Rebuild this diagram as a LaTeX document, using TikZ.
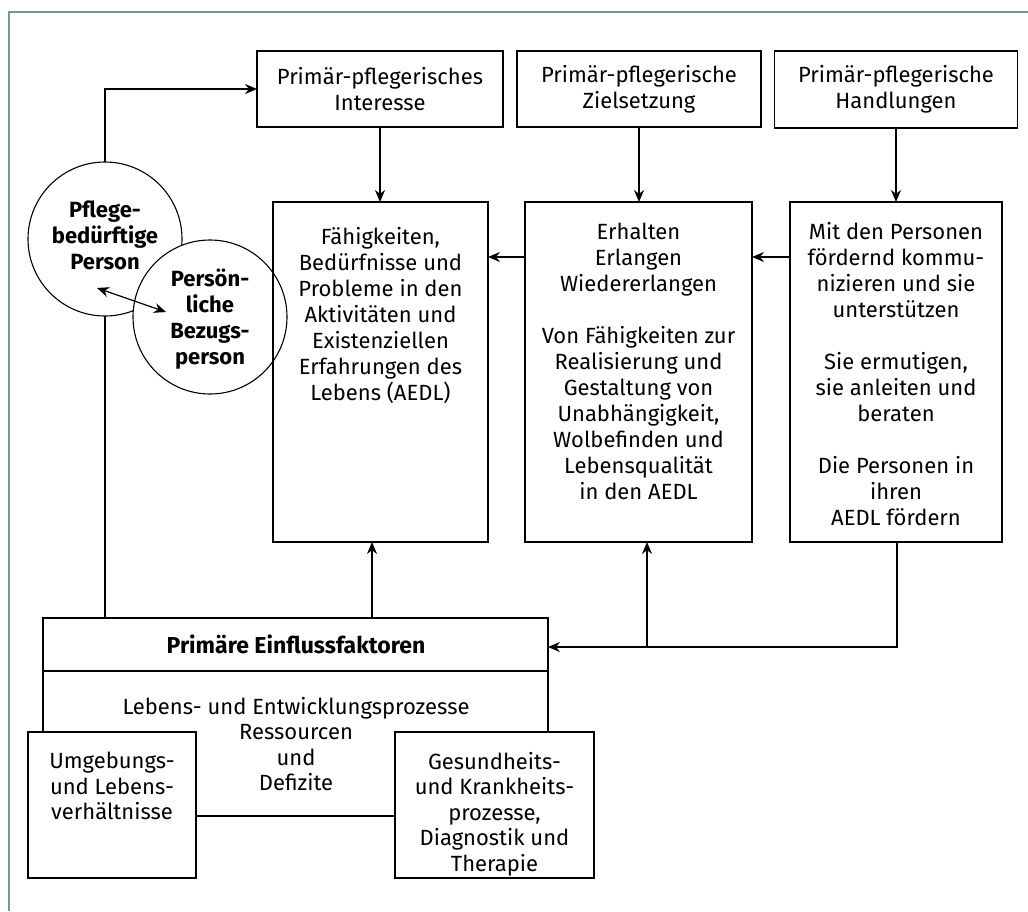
\documentclass[tikz,border=0pt]{standalone}
\usepackage{fontspec}
\setmainfont{Fira Sans}
\usetikzlibrary{arrows.meta}
\definecolor{framecol}{RGB}{120,150,150}
\begin{document}
\begin{tikzpicture}[x=1pt,y=-1pt,
  every node/.style={inner sep=0pt, outer sep=0pt},
  txt/.style={align=center, font=\fontsize{22}{26}\selectfont},
  btxt/.style={align=center, font=\fontsize{22}{26}\selectfont\bfseries},
  box/.style={draw, line width=1.3pt},
  ring/.style={draw, circle, line width=1.1pt, minimum size=154pt},
  conn/.style={line width=1.2pt},
  arr/.style={conn, -{Stealth[length=12pt,width=10pt]}},
  darr/.style={conn, {Stealth[length=12pt,width=10pt]}-{Stealth[length=12pt,width=10pt]}}
]
\useasboundingbox (0,0) rectangle (1028,911);
\fill[white] (0,0) rectangle (1028,911);

% outer frame (top and left edges)
\draw[framecol, line width=1.5pt] (9,911) -- (9,12) -- (1028,12);

% persons
\node[ring] (pflege) at (105,239) {};
\node[ring, fill=white] (bezug) at (210,317) {};
\node[btxt] (pflegeT) at (105,235) {Pflege-\\bedürftige\\Person};
\node[btxt] (bezugT) at (210,319) {Persön-\\liche\\Bezugs-\\person};

% top row
\node[box, minimum width=246pt, minimum height=76pt, txt] (inter) at (380,89) {Primär-pflegerisches\\Interesse};
\node[box, minimum width=244pt, minimum height=76pt, txt] (ziel) at (639,89) {Primär-pflegerische\\Zielsetzung};
\node[box, minimum width=243pt, minimum height=77pt, txt] (handl) at (896,89.5) {Primär-pflegerische\\Handlungen};

% middle row
\node[box, minimum width=215pt, minimum height=340pt] (faeh) at (380.5,372) {};
\node[box, minimum width=227pt, minimum height=340pt] (erh) at (638.5,372) {};
\node[box, minimum width=212pt, minimum height=340pt] (mit) at (896,372) {};

\node[txt, anchor=north] (faehT) at ([yshift=-25pt]faeh.north) {Fähigkeiten,\\Bedürfnisse und\\Probleme in den\\Aktivitäten und\\Existenziellen\\Erfahrungen des\\Lebens (AEDL)};
\node[txt, anchor=north] (erhT) at ([yshift=-21pt]erh.north) {Erhalten\\Erlangen\\Wiedererlangen\\[26pt]Von Fähigkeiten zur\\Realisierung und\\Gestaltung von\\Unabhängigkeit,\\Wolbefinden und\\Lebensqualität\\in den AEDL};
\node[txt, anchor=north] (mitT) at ([yshift=-20pt]mit.north) {Mit den Personen\\fördernd kommu-\\nizieren und sie\\unterstützen\\[26pt]Sie ermutigen,\\sie anleiten und\\beraten\\[26pt]Die Personen in\\ihren\\AEDL fördern};

% influencing factors
\node[box, minimum width=505pt, minimum height=53pt] (einfl) at (295.5,644.5) {};
\node[btxt, font=\fontsize{23}{26}\selectfont\bfseries] (einflT) at (296,644) {Primäre Einflussfaktoren};
\draw[box] (einfl.south west) -- (43,732);
\draw[box] (einfl.south east) -- (548,732);
\node[txt, anchor=north] (prozT) at (296,697) {Lebens- und Entwicklungsprozesse\\[-0.5pt]Ressourcen\\[-0.5pt]und\\[-0.5pt]Defizite};
\node[box, fill=white, minimum width=168pt, minimum height=146pt] (umg) at (112,805) {};
\node[txt, anchor=north] (umgT) at ([yshift=-20pt]umg.north) {Umgebungs-\\[-0.5pt]und Lebens-\\[-0.5pt]verhältnisse};
\node[box, fill=white, minimum width=199pt, minimum height=146pt] (ges) at (494.5,805) {};
\node[txt, anchor=north] (gesT) at ([yshift=-20pt]ges.north) {Gesundheits-\\[-0.5pt]und Krankheits-\\[-0.5pt]prozesse,\\[-0.5pt]Diagnostik und\\[-0.5pt]Therapie};
\draw[conn] (umg.east |- 0,816) -- (ges.west |- 0,816);

% connectors
\coordinate (topbend) at (105,89);
\draw[arr] (pflege.north) -- (topbend) -- (inter.west);
\draw[conn] (pflege.south) -- (pflege.south |- einfl.north);
\draw[darr] (97,288) -- (166,312);

\draw[arr] (inter.south) -- (faeh.north -| inter.south);
\draw[arr] (ziel.south) -- (erh.north -| ziel.south);
\draw[arr] (handl.south) -- (mit.north -| handl.south);
\draw[arr] (mit.west |- 0,257) -- (erh.east |- 0,257);
\draw[arr] (erh.west |- 0,257) -- (faeh.east |- 0,257);

\draw[arr] (372,618) -- (372,542);
\coordinate (mitturn) at (897,647);
\draw[arr] (897,542) -- (mitturn) -- (einfl.east |- mitturn);
\draw[arr] (647,647) -- (647,542);
\end{tikzpicture}
\end{document}
